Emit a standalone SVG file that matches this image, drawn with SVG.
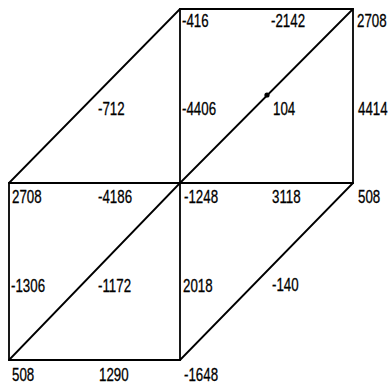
<svg xmlns="http://www.w3.org/2000/svg" width="391" height="388" viewBox="0 0 391 388">
<style>
.e{stroke:#000;stroke-width:1.8;fill:none;stroke-linecap:round}
.t{font-family:"Liberation Sans",Arial,sans-serif;font-size:18px;fill:#000;stroke:#000;stroke-width:0.3}
</style>
<rect width="391" height="388" fill="#fff"/>
<g id="connectors">
<path class="e" d="M180,9H353V183H180Z"/>
<path class="e" d="M180,183L353,9"/>
<path class="e" d="M9,183L180,9"/>
<path class="e" d="M9,183H180V360H9Z"/>
<path class="e" d="M9,360L180,183"/>
<path class="e" d="M180,360L353,183"/>
<circle cx="267" cy="95" r="2.6" fill="#000"/>
</g>
<g id="labels">
<text class="t" transform="translate(182,27) scale(0.74,1)">-416</text>
<text class="t" transform="translate(271,27) scale(0.74,1)">-2142</text>
<text class="t" transform="translate(357,27) scale(0.74,1)">2708</text>
<text class="t" transform="translate(98,115) scale(0.74,1)">-712</text>
<text class="t" transform="translate(182,115) scale(0.74,1)">-4406</text>
<text class="t" transform="translate(273,115) scale(0.74,1)">104</text>
<text class="t" transform="translate(358,115) scale(0.74,1)">4414</text>
<text class="t" transform="translate(12,203) scale(0.74,1)">2708</text>
<text class="t" transform="translate(98,203) scale(0.74,1)">-4186</text>
<text class="t" transform="translate(184,203) scale(0.74,1)">-1248</text>
<text class="t" transform="translate(272,203) scale(0.74,1)">3118</text>
<text class="t" transform="translate(358,203) scale(0.74,1)">508</text>
<text class="t" transform="translate(11,292) scale(0.74,1)">-1306</text>
<text class="t" transform="translate(98,292) scale(0.74,1)">-1172</text>
<text class="t" transform="translate(183,292) scale(0.74,1)">2018</text>
<text class="t" transform="translate(272,291) scale(0.74,1)">-140</text>
<text class="t" transform="translate(12,381) scale(0.74,1)">508</text>
<text class="t" transform="translate(99,381) scale(0.74,1)">1290</text>
<text class="t" transform="translate(184,381) scale(0.74,1)">-1648</text>
</g>
</svg>
